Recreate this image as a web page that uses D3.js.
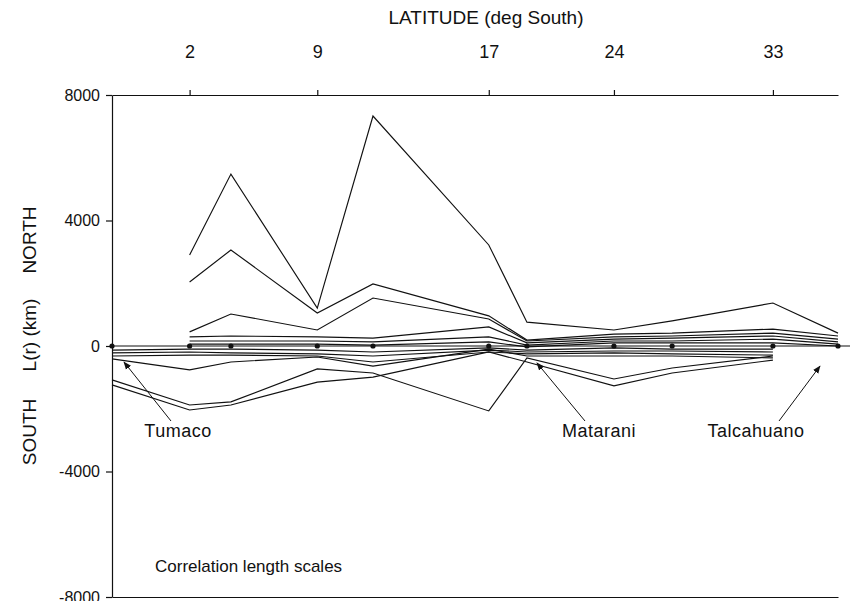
<!DOCTYPE html>
<html><head><meta charset="utf-8">
<script src="https://cdn.jsdelivr.net/npm/d3@7"></script>
<style>
body{margin:0;background:#fff}
text{font-family:"Liberation Sans",Arial,Helvetica,sans-serif;fill:#111}
</style>
</head><body>
<svg id="c" width="859" height="601"></svg>
<script>
// station positions along the coast (km from the northernmost station)
const stationDist = [0, 620, 950, 1640, 2085, 3010, 3315, 4010, 4475, 5280, 5800];
// latitude tick labels placed at selected stations
const latTickStations = [1, 3, 5, 7, 9];
const latTickLabels = ["2", "9", "17", "24", "33"];
const yTickValues = [8000, 4000, 0, -4000, -8000];

// correlation length scales L(r) in km (positive = north, negative = south)
const zeroLine = [0, 0, 0, 0, 0, 0, 0, 0, 0, 0, 0];
const north1 = [null, 2900, 5480, 1210, 7330, 3220, 760, 510, 800, 1370, 410];
const north2 = [null, 2040, 3060, 1050, 1980, 960, 190, 380, 410, 540, 320];
const north3 = [null, 450, 1020, 510, 1530, 860, 160, 290, 320, 410, 220];
const north4 = [null, 290, 320, 290, 250, 610, 100, 220, 250, 320, 130];
const north5 = [null, 160, 160, 160, 130, 290, 30, 160, 160, 220, 60];
const north6 = [null, 60, 60, 60, 30, 130, -30, 100, 100, 100, 0];
const south1 = [-130, -100, -100, -130, -190, -60, -130, -60, -100, -100, null];
const south2 = [-220, -190, -220, -250, -320, -130, -190, -160, -160, -190, null];
const south3 = [-320, -290, -290, -320, -510, -190, -250, -220, -250, -290, null];
const south4 = [-410, -760, -510, -350, -640, -100, -320, -320, -320, -380, null];
const south5 = [-1080, -1880, -1780, -730, -860, -2070, -380, -1050, -700, -320, null];
const south6 = [-1240, -2040, -1880, -1150, -990, -190, -510, -1270, -860, -450, null];
const allSeries = [north1, north2, north3, north4, north5, north6,
                   south1, south2, south3, south4, south5, south6];

// annotated reference stations
const annoLabels = ["Tumaco", "Matarani", "Talcahuano"];
const annoTipDist = [96, 3395, 5656];
const annoTipValue = [-510, -540, -640];

const svg = d3.select("#c");
const x = d3.scaleLinear().domain([0, 5800]).range([112, 838]);
const y = d3.scaleLinear().domain([-8000, 8000]).range([597, 95]);

svg.append("defs").append("marker")
  .attr("id", "ah").attr("viewBox", "0 0 10 10").attr("refX", 9).attr("refY", 5)
  .attr("markerWidth", 8).attr("markerHeight", 8).attr("markerUnits", "userSpaceOnUse")
  .attr("orient", "auto")
  .append("path").attr("d", "M0,1 L10,5 L0,9 Z").attr("fill", "#111");

// axes
const leftAxis = svg.append("g").attr("transform", `translate(${x(0)},0)`)
  .call(d3.axisLeft(y).tickValues(yTickValues).tickSize(6).tickSizeOuter(0)
        .tickFormat(d => String(d)).tickPadding(6));
leftAxis.selectAll("text").style("font-size", "16px");

const topAxis = svg.append("g").attr("transform", `translate(0,${y(8000)})`)
  .call(d3.axisTop(x).tickValues(latTickStations.map(i => stationDist[i]))
        .tickFormat((d, i) => latTickLabels[i]).tickSize(5).tickSizeOuter(0).tickPadding(32));
topAxis.selectAll("text").style("font-size", "18px");

svg.append("g").attr("transform", `translate(0,${y(-8000)})`)
  .call(d3.axisBottom(x).tickValues([]).tickSizeOuter(0));

svg.selectAll(".domain, .tick line").attr("stroke", "#111").attr("stroke-width", 1.2);

// zero line
svg.append("line").attr("x1", x(0)).attr("x2", x.range()[1] + 12)
  .attr("y1", y(0)).attr("y2", y(0)).attr("stroke", "#111").attr("stroke-width", 1.2);

const line = d3.line().defined(d => d[1] !== null).x(d => x(d[0])).y(d => y(d[1]));
svg.append("g").selectAll("path").data(allSeries).join("path")
  .attr("d", s => line(s.map((v, i) => [stationDist[i], v])))
  .attr("fill", "none").attr("stroke", "#111").attr("stroke-width", 1.15);

svg.append("g").selectAll("circle").data(zeroLine.map((v, i) => [stationDist[i], v])).join("circle")
  .attr("cx", d => x(d[0])).attr("cy", d => y(d[1])).attr("r", 2.6).attr("fill", "#111");

// annotations
const labelX = [178, 599, 756];
const labelY = [437, 437, 437];
const tailX = [171, 585, 779];
const tailY = [421, 421, 421];
annoLabels.forEach((name, i) => {
  svg.append("line").attr("x1", tailX[i]).attr("y1", tailY[i])
    .attr("x2", x(annoTipDist[i])).attr("y2", y(annoTipValue[i]))
    .attr("stroke", "#111").attr("stroke-width", 1).attr("marker-end", "url(#ah)");
  svg.append("text").attr("x", labelX[i]).attr("y", labelY[i]).attr("text-anchor", "middle")
    .style("font-size", "18px").style("letter-spacing", "0.5px").text(name);
});

svg.append("text").attr("x", 155).attr("y", 572).style("font-size", "17px").text("Correlation length scales");
svg.append("text").attr("x", 486).attr("y", 24).attr("text-anchor", "middle")
  .style("font-size", "19px").text("LATITUDE (deg South)");

[["NORTH", 240], ["L(r) (km)", 335], ["SOUTH", 432]].forEach(([t, cy]) => {
  svg.append("text").attr("transform", `translate(36,${cy}) rotate(-90)`)
    .attr("text-anchor", "middle").style("font-size", "19px").text(t);
});
</script>
</body></html>
